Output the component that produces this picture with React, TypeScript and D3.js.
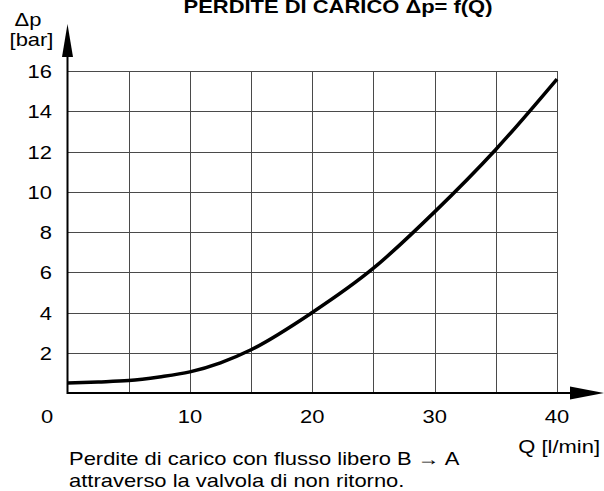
import React from 'react';
import * as d3 from 'd3';

const flow = [0, 2.5, 5, 7.5, 10, 12.5, 15, 20, 25, 30, 35, 40];
const pressure = [0.5, 0.55, 0.62, 0.8, 1.05, 1.5, 2.15, 4.0, 6.2, 9.0, 12.1, 15.6];
const xTicks = [10, 20, 30, 40];
const yTicks = [2, 4, 6, 8, 10, 12, 14, 16];
const xGrid = [5, 10, 15, 20, 25, 30, 35, 40];

const W = 604;
const H = 491;
const font = 'Liberation Sans, Arial, sans-serif';
const SX = 1.22; // the original lettering is a bit wider than Arial

function T({ x, y, anchor = 'start', size = 18, bold = false, children }: {
  x: number; y: number; anchor?: string; size?: number; bold?: boolean; children: React.ReactNode;
}) {
  return (
    <text transform={`translate(${x},${y}) scale(${SX},1)`} textAnchor={anchor}
      fontSize={size} fontWeight={bold ? 'bold' : 'normal'}>{children}</text>
  );
}

export default function App() {
  const x = d3.scaleLinear().domain([0, 40]).range([67.5, 557]);
  const y = d3.scaleLinear().domain([0, 16]).range([393, 71]);

  const line = d3.line<number>()
    .x((_, i) => x(flow[i]))
    .y(d => y(d))
    .curve(d3.curveMonotoneX);

  const x0 = x(0);
  const y0 = y(0);

  return (
    <svg width={W} height={H} style={{ position: 'absolute', left: 0, top: 0, background: '#fff' }}
      fontFamily={font}>
      <T x={338} y={13} anchor="middle" bold>PERDITE DI CARICO Δp= f(Q)</T>

      {/* grid */}
      <g stroke="#4a4a4a" strokeWidth={1}>
        {yTicks.map(t => (
          <line key={'h' + t} x1={x0} x2={x(40)} y1={Math.round(y(t)) + 0.5} y2={Math.round(y(t)) + 0.5} />
        ))}
        {xGrid.map(t => (
          <line key={'v' + t} x1={Math.round(x(t)) + 0.5} x2={Math.round(x(t)) + 0.5} y1={y(16)} y2={y0} />
        ))}
      </g>

      {/* axes */}
      <g stroke="#000" strokeWidth={2}>
        <line x1={x0} x2={575} y1={y0} y2={y0} />
        <line x1={x0} x2={x0} y1={y0 + 1} y2={52} />
      </g>
      <path d={`M604,${y0} L570,${y0 - 6.5} L570,${y0 + 6.5} Z`} fill="#000" />
      <path d={`M${x0},24 L${x0 - 5.5},57 L${x0 + 5.5},57 Z`} fill="#000" />

      {/* curve */}
      <path d={line(pressure) ?? ''} fill="none" stroke="#000" strokeWidth={3.5} />

      {/* y labels */}
      {yTicks.map(t => (
        <T key={t} x={52} y={y(t) + 7} anchor="end">{t}</T>
      ))}
      <T x={28} y={26} anchor="middle">Δp</T>
      <T x={31.5} y={46} anchor="middle">[bar]</T>

      {/* x labels */}
      <T x={47} y={423} anchor="middle">0</T>
      {xTicks.map(t => (
        <T key={t} x={x(t)} y={423} anchor="middle">{t}</T>
      ))}
      <T x={600} y={453} anchor="end">Q [l/min]</T>

      <T x={69} y={465}>Perdite di carico con flusso libero B → A</T>
      <T x={69} y={487}>attraverso la valvola di non ritorno.</T>
    </svg>
  );
}
